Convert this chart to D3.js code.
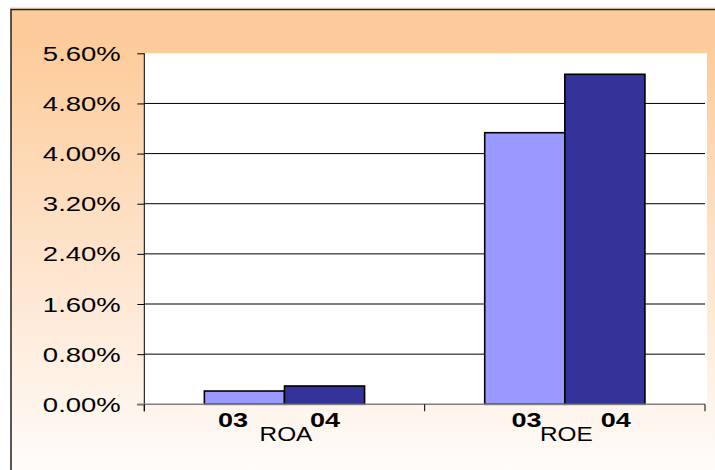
<!DOCTYPE html>
<html>
<head>
<meta charset="utf-8">
<script src="https://cdn.jsdelivr.net/npm/d3@7"></script>
<style>
  body { margin: 0; background: #fff; }
  svg { display: block; font-family: "Liberation Sans", Arial, sans-serif; }
</style>
</head>
<body>
<div id="chart"></div>
<script>
// chart data
var categories = ["ROA", "ROE"];
var years = ["03", "04"];
var values03 = [0.00212, 0.04333];
var values04 = [0.00292, 0.05265];
var yTicks = [0, 0.008, 0.016, 0.024, 0.032, 0.040, 0.048, 0.056];

var W = 715, H = 470;
var plot = { left: 144.3, top: 53.3, right: 705, bottom: 404.3 };
var colors = { "03": "#9999FF", "04": "#333399" };

// label offsets from the category centre (the original labels are oddly placed)
var labelLayout = {
  ROA: { y03: -51.5, y04: 40.5, name: 1.5 },
  ROE: { y03: -38.3, y04: 51, name: 1.5 }
};

var svg = d3.select("#chart").append("svg")
  .attr("width", W)
  .attr("height", H);

// background gradient
var defs = svg.append("defs");
var grad = defs.append("linearGradient")
  .attr("id", "bg")
  .attr("x1", 0).attr("y1", 0).attr("x2", 0).attr("y2", 1);
grad.append("stop").attr("offset", "0").attr("stop-color", "#FDCB99");
grad.append("stop").attr("offset", "0.08").attr("stop-color", "#FDCC9B");
grad.append("stop").attr("offset", "0.55").attr("stop-color", "#FEE6D1");
grad.append("stop").attr("offset", "1").attr("stop-color", "#FFFFFF");

svg.append("line")
  .attr("x1", 10).attr("x2", W).attr("y1", 8).attr("y2", 8)
  .attr("stroke", "#FDCB99").attr("stroke-width", 1);

svg.append("rect")
  .attr("x", 11).attr("y", 9.5)
  .attr("width", W + 20).attr("height", H + 20)
  .attr("fill", "url(#bg)")
  .attr("stroke", "#222")
  .attr("stroke-width", 1.5);

// white plot area
svg.append("rect")
  .attr("x", plot.left).attr("y", plot.top)
  .attr("width", 707 - plot.left).attr("height", plot.bottom - plot.top)
  .attr("fill", "#fff");

var y = d3.scaleLinear()
  .domain([0, 0.056])
  .range([plot.bottom, plot.top]);

var x0 = d3.scaleBand()
  .domain(categories)
  .range([plot.left, plot.right])
  .padding(0);

var barW = x0.bandwidth() / 3.5;
var x1 = d3.scaleBand()
  .domain(years)
  .range([0, barW * 2])
  .padding(0);

// gridlines
svg.append("g")
  .selectAll("line")
  .data(yTicks.filter(function (d) { return d > 0 && d < 0.056; }))
  .join("line")
  .attr("x1", plot.left).attr("x2", plot.right)
  .attr("y1", function (d) { return y(d); })
  .attr("y2", function (d) { return y(d); })
  .attr("stroke", "#000")
  .attr("stroke-width", 1);

// bars
var rows = [];
categories.forEach(function (c, i) {
  rows.push({ cat: c, year: "03", value: values03[i] });
  rows.push({ cat: c, year: "04", value: values04[i] });
});

svg.append("g")
  .selectAll("rect")
  .data(rows)
  .join("rect")
  .attr("x", function (d) {
    return x0(d.cat) + x0.bandwidth() / 2 - barW + x1(d.year);
  })
  .attr("y", function (d) { return y(d.value); })
  .attr("width", barW)
  .attr("height", function (d) { return y(0) - y(d.value); })
  .attr("fill", function (d) { return colors[d.year]; })
  .attr("stroke", "#000")
  .attr("stroke-width", 1.6);

// y axis
var yAxis = svg.append("g")
  .attr("transform", "translate(" + plot.left + ",0)")
  .call(d3.axisLeft(y).tickValues(yTicks).tickFormat(d3.format(".2%")).tickSize(7).tickSizeOuter(0));
yAxis.select(".domain").remove();
yAxis.selectAll(".tick line").attr("stroke", "#000");
yAxis.selectAll(".tick text").remove();
yAxis.append("line")
  .attr("x1", 0).attr("x2", 0)
  .attr("y1", plot.top).attr("y2", plot.bottom + 7)
  .attr("stroke", "#000");

// y tick labels, stretched horizontally like the original
svg.append("g")
  .selectAll("text")
  .data(yTicks)
  .join("text")
  .attr("transform", function (d) {
    return "translate(120.7," + (y(d) + 7.5) + ") scale(1.34,1)";
  })
  .attr("text-anchor", "end")
  .style("font-size", "20.5px")
  .attr("fill", "#000")
  .text(d3.format(".2%"));

// x axis line and ticks
svg.append("line")
  .attr("x1", plot.left - 7).attr("x2", plot.right)
  .attr("y1", plot.bottom).attr("y2", plot.bottom)
  .attr("stroke", "#808080").attr("stroke-width", 1.5);

svg.append("g")
  .selectAll("line")
  .data(categories.concat(["end"]))
  .join("line")
  .attr("x1", function (d) { return d === "end" ? plot.right : x0(d); })
  .attr("x2", function (d) { return d === "end" ? plot.right : x0(d); })
  .attr("y1", plot.bottom).attr("y2", plot.bottom + 7)
  .attr("stroke", "#000");

// category labels
var lab = svg.append("g");
categories.forEach(function (c) {
  var cx = x0(c) + x0.bandwidth() / 2;
  var L = labelLayout[c];
  lab.append("text")
    .attr("transform", "translate(" + (cx + L.y03) + ",427) scale(1.32,1)")
    .attr("text-anchor", "middle")
    .style("font-size", "20.5px").style("font-weight", "bold")
    .text(years[0]);
  lab.append("text")
    .attr("transform", "translate(" + (cx + L.y04) + ",427) scale(1.32,1)")
    .attr("text-anchor", "middle")
    .style("font-size", "20.5px").style("font-weight", "bold")
    .text(years[1]);
  lab.append("text")
    .attr("transform", "translate(" + (cx + L.name) + ",441) scale(1.25,1)")
    .attr("text-anchor", "middle")
    .style("font-size", "19.5px")
    .text(c);
});
</script>
</body>
</html>
